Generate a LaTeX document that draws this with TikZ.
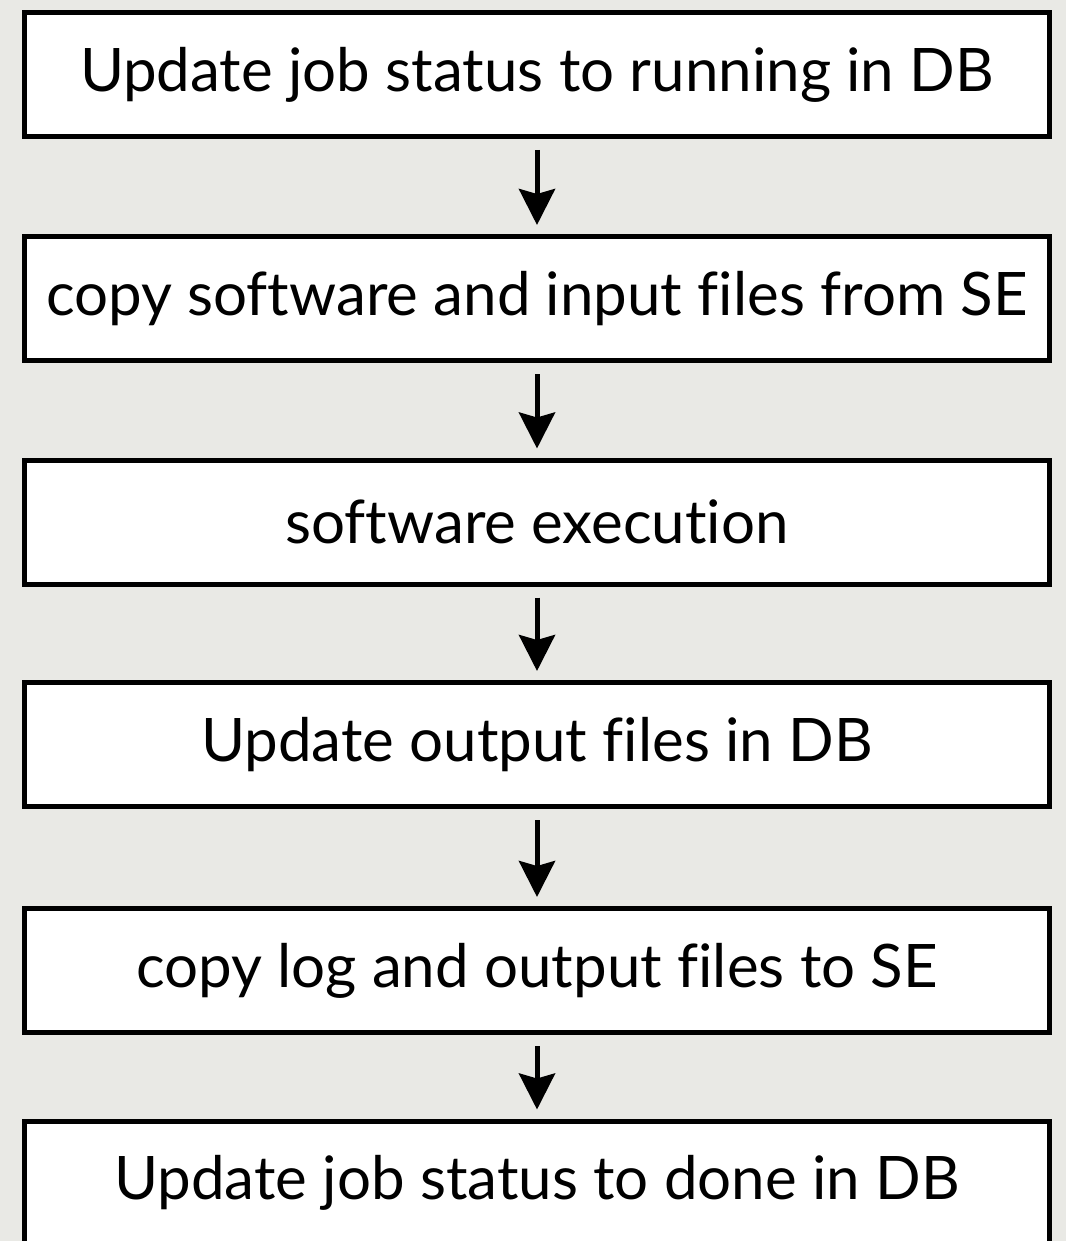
\documentclass[tikz,border=0pt]{standalone}
\usepackage{fontspec}
\setmainfont{Lato}[Ligatures=CommonOff]
\usetikzlibrary{arrows.meta}

\definecolor{paper}{RGB}{233,233,229}

\tikzset{
    stepbox/.style={draw, line width=5pt, fill=white, minimum width=1025pt,
        minimum height=124pt, inner sep=0pt, font=\fontsize{60}{60}\selectfont},
    flow/.style={line width=5pt, -{Stealth[length=36pt, width=36pt, inset=5pt]},
        shorten <=11pt, shorten >=9pt}
}

\begin{document}
\begin{tikzpicture}[x=1pt, y=1pt]

        % Background
        \clip (0, 0) rectangle (1066, -1241);
        \fill [paper] (0, 0) rectangle (1066, -1241);

        % Steps
        \node[stepbox] (run) at (537, -74.5){Update job status to running in DB};
        \node[stepbox] (copyin) at (537, -298.5){copy software and input files from SE};
        \node[stepbox] (exec) at (537, -522){software execution};
        \node[stepbox] (outdb) at (537, -744.5){Update output files in DB};
        \node[stepbox] (copyout) at (537, -970.5){copy log and output files to SE};
        \node[stepbox] (done) at (537, -1183){Update job status to done in DB};

        % Arrows
        \foreach \a/\b in {run/copyin, copyin/exec, exec/outdb, outdb/copyout, copyout/done}{
            \draw [flow] (\a.south) -- (\b.north);
        }

    \end{tikzpicture}
\end{document}
